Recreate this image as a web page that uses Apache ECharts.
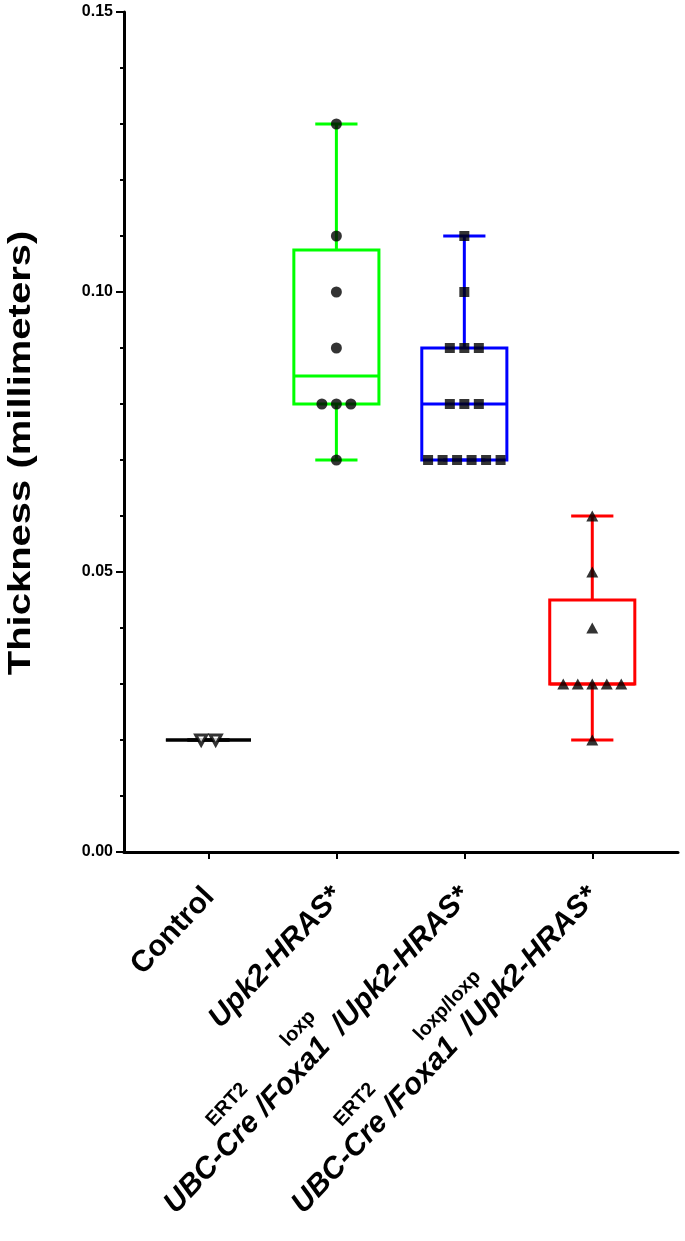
<!DOCTYPE html>
<html lang="en">
<head>
<meta charset="UTF-8">
<title>Thickness</title>
<script src="https://cdn.jsdelivr.net/npm/echarts@6.0.0/dist/echarts.min.js"></script>
<style>
    html, body {margin:0; padding:0; background:#fff;}
    #main {width:685px; height:1241px;}
</style>
</head>
<body>
<div id="main"></div>
<script>
// group names (x = 1..4)
var groupNames = ['Control', 'Upk2-HRAS*', 'UBC-Cre /Foxa1  /Upk2-HRAS*', 'UBC-Cre /Foxa1  /Upk2-HRAS*'];
var groupSups = [[], [], ['ERT2', 'loxp'], ['ERT2', 'loxp/loxp']];
var controlVals = [0.02, 0.02];
var upkVals = [0.13, 0.11, 0.10, 0.09, 0.08, 0.08, 0.08, 0.07];
var hetVals = [0.11, 0.10, 0.09, 0.09, 0.09, 0.08, 0.08, 0.08, 0.07, 0.07, 0.07, 0.07, 0.07, 0.07];
var homVals = [0.06, 0.05, 0.04, 0.03, 0.03, 0.03, 0.03, 0.03, 0.02];
var yTitle = 'Thickness (millimeters)';

var boxColors = ['#000000', '#00ff00', '#0000ff', '#ff0000'];
var FONT = 'Liberation Sans, Arial, sans-serif';
var BOX_W = 0.665;   // box width in x units
var CAP_W = 0.33;    // whisker cap width
var DOT_STEP = 14.5; // px between tied dots

// quartile like GraphPad ((n+1)p)
function quant(sorted, p) {
    var pos = (sorted.length + 1) * p;
    if (pos <= 1) return sorted[0];
    if (pos >= sorted.length) return sorted[sorted.length - 1];
    var lo = Math.floor(pos), frac = pos - lo;
    return sorted[lo - 1] + frac * (sorted[lo] - sorted[lo - 1]);
}
function boxStats(vals, x) {
    var s = vals.slice().sort(function (a, b) { return a - b; });
    return [x, s[0], quant(s, 0.25), quant(s, 0.5), quant(s, 0.75), s[s.length - 1]];
}
// spread tied values sideways
function spread(vals, x) {
    var counts = {}, seen = {};
    vals.forEach(function (v) { counts[v] = (counts[v] || 0) + 1; });
    return vals.map(function (v) {
        var n = counts[v], i = seen[v] || 0;
        seen[v] = i + 1;
        return {value: [x, v], symbolOffset: [(i - (n - 1) / 2) * DOT_STEP, 0]};
    });
}

var allGroups = [controlVals, upkVals, hetVals, homVals];
var boxData = allGroups.map(function (g, i) { return boxStats(g, i + 1); });

function renderBox(params, api) {
    var x = api.value(0);
    var c = boxColors[params.dataIndex];
    var pMin = api.coord([x, api.value(1)]);
    var pQ1 = api.coord([x, api.value(2)]);
    var pMed = api.coord([x, api.value(3)]);
    var pQ3 = api.coord([x, api.value(4)]);
    var pMax = api.coord([x, api.value(5)]);
    var half = api.size([BOX_W, 0])[0] / 2;
    var cap = api.size([CAP_W, 0])[0] / 2;
    var cx = pMin[0];
    var st = {stroke: c, lineWidth: 3, fill: null};
    function seg(x1, y1, x2, y2) {
        return {type: 'line', shape: {x1: x1, y1: y1, x2: x2, y2: y2}, style: st};
    }
    return {
        type: 'group',
        children: [
            seg(cx, pQ3[1], cx, pMax[1]),
            seg(cx, pQ1[1], cx, pMin[1]),
            seg(cx - cap, pMax[1], cx + cap, pMax[1]),
            seg(cx - cap, pMin[1], cx + cap, pMin[1]),
            {type: 'rect', shape: {x: cx - half, y: pQ3[1], width: half * 2, height: pQ1[1] - pQ3[1]},
                style: {stroke: c, lineWidth: 3, fill: 'none'}},
            seg(cx - half, pMed[1], cx + half, pMed[1])
        ]
    };
}

// x labels: pad line, superscript line, main line
function xLabel(value) {
    var i = Math.round(value) - 1;
    var sups = groupSups[i];
    var mainStyle = i === 0 ? 'up' : 'it';
    if (!sups.length) {
        return '{padL|}\n{' + mainStyle + '|' + groupNames[i] + '}';
    }
    return '{padS|}\n{g1|}{sup|' + sups[0] + '}{g' + (i + 1) + '|}{sup|' + sups[1] + '}\n{' + mainStyle + '|' + groupNames[i] + '}';
}

var myChart = echarts.init(document.getElementById('main'));
var option = {
    backgroundColor: '#fff',
    animation: false,
    grid: {left: 124, right: 7, top: 12, bottom: 389, containLabel: false, outerBoundsMode: 'none'},
    graphic: [{
        // axis title, drawn stretched along its length like the original
        type: 'text',
        x: 21,
        y: 453,
        rotation: Math.PI / 2,
        scaleX: 1.29,
        style: {
            text: yTitle,
            font: 'bold 31px ' + FONT,
            fill: '#000',
            textAlign: 'center',
            textVerticalAlign: 'middle'
        }
    }],
    xAxis: {
        type: 'value',
        min: 0.34,
        max: 4.67,
        splitLine: {show: false},
        axisLine: {show: true, lineStyle: {color: '#000', width: 3}},
        axisTick: {show: true, customValues: [1, 2, 3, 4], length: 7, lineStyle: {color: '#000', width: 2}},
        axisLabel: {
            customValues: [1, 2, 3, 4],
            rotate: 47,
            margin: 16,
            padding: [0, 17, 0, 0],
            color: '#000',
            fontFamily: FONT,
            fontSize: 20,
            formatter: xLabel,
            rich: {
                up: {fontSize: 30, fontWeight: 'bold', fontFamily: FONT, color: '#000', lineHeight: 34, align: 'left'},
                it: {fontSize: 30, fontWeight: 'bold', fontStyle: 'italic', fontFamily: FONT, color: '#000', lineHeight: 34, align: 'left'},
                sup: {fontSize: 20, fontWeight: 'bold', fontFamily: FONT, color: '#000', lineHeight: 24, align: 'left'},
                g1: {width: 90, lineHeight: 24, align: 'left'},
                g3: {width: 58, lineHeight: 24, align: 'left'},
                g4: {width: 66, lineHeight: 24, align: 'left'},
                padL: {lineHeight: 34, align: 'left'},
                padS: {lineHeight: 10, align: 'left'}
            }
        }
    },
    yAxis: {
        type: 'value',
        min: 0,
        max: 0.15,
        interval: 0.05,
        splitLine: {show: false},
        axisLine: {show: true, lineStyle: {color: '#000', width: 3}},
        axisTick: {show: true, length: 8, lineStyle: {color: '#000', width: 2}},
        minorTick: {show: true, splitNumber: 5, length: 4, lineStyle: {color: '#000', width: 2}},
        axisLabel: {
            margin: 11,
            color: '#000',
            fontSize: 16,
            fontWeight: 'bold',
            fontFamily: FONT,
            formatter: function (v) { return v.toFixed(2); }
        }
    },
    series: [
        {type: 'custom', renderItem: renderBox, data: boxData, z: 2,
            encode: {x: 0, y: [1, 2, 3, 4, 5]}},
        {type: 'scatter', data: spread(controlVals, 1), symbol: 'triangle', symbolRotate: 180, symbolSize: [11, 10], z: 3,
            itemStyle: {color: '#fff', borderColor: '#000', borderWidth: 3}},
        {type: 'scatter', data: spread(upkVals, 2), symbol: 'circle', symbolSize: 11, z: 3,
            itemStyle: {color: '#000'}},
        {type: 'scatter', data: spread(hetVals, 3), symbol: 'rect', symbolSize: 10, z: 3,
            itemStyle: {color: '#000'}},
        {type: 'scatter', data: spread(homVals, 4), symbol: 'triangle', symbolSize: [12, 11], z: 3,
            itemStyle: {color: '#000'}}
    ]
};
myChart.setOption(option);
</script>
</body>
</html>
